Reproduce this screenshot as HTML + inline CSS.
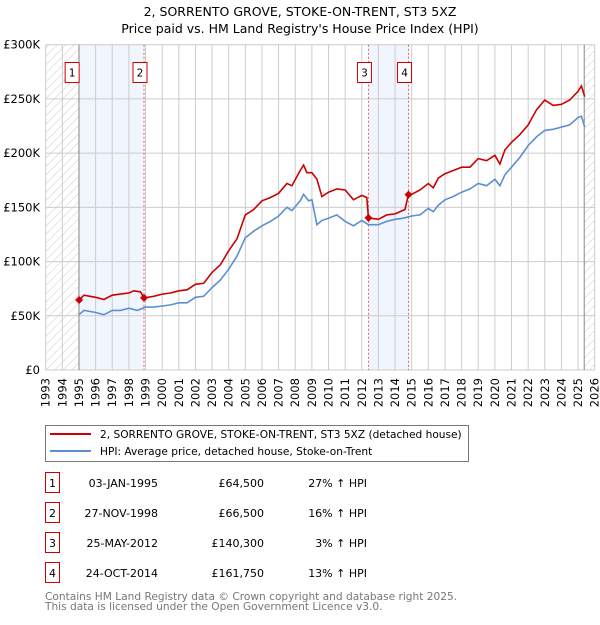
<!DOCTYPE html>
<html><head><meta charset="utf-8"><style>
body{margin:0;background:#fff;font-family:"Liberation Sans","DejaVu Sans",sans-serif;}
svg text{font-family:"DejaVu Sans","Liberation Sans",sans-serif;}
</style></head><body>
<svg id="c" width="600" height="620" xmlns="http://www.w3.org/2000/svg">
<defs><pattern id="hatch" width="6" height="6" patternUnits="userSpaceOnUse" patternTransform="rotate(45)"><line x1="0" y1="0" x2="0" y2="6" stroke="#ccc" stroke-width="1"/></pattern></defs>
<text x="300" y="16" text-anchor="middle" font-size="12.5" fill="#000">2, SORRENTO GROVE, STOKE-ON-TRENT, ST3 5XZ</text>
<text x="300" y="33" text-anchor="middle" font-size="12.5" fill="#000">Price paid vs. HM Land Registry's House Price Index (HPI)</text>
<g id="plot"></g>
<g>
<rect x="45.5" y="425.5" width="423" height="36" fill="#fff" stroke="#777"/>
<line x1="50" y1="434" x2="91" y2="434" stroke="#cc0000" stroke-width="2"/>
<text x="100" y="438" font-size="10.6">2, SORRENTO GROVE, STOKE-ON-TRENT, ST3 5XZ (detached house)</text>
<line x1="50" y1="451" x2="91" y2="451" stroke="#5b8fd4" stroke-width="2"/>
<text x="100" y="455" font-size="10.6">HPI: Average price, detached house, Stoke-on-Trent</text>
</g>
<g id="table" font-size="11"></g>
<text x="45" y="600" font-size="10.6" fill="#777">Contains HM Land Registry data © Crown copyright and database right 2025.</text>
<text x="45" y="610" font-size="10.6" fill="#777">This data is licensed under the Open Government Licence v3.0.</text>
</svg>
<script>
const hpiYears=[1995.0,1995.3,1996,1996.5,1997,1997.5,1998,1998.5,1999,1999.5,2000,2000.5,2001,2001.5,2002,2002.5,2003,2003.5,2004,2004.5,2005,2005.5,2006,2006.5,2007,2007.5,2007.8,2008.3,2008.5,2008.8,2009,2009.3,2009.6,2010,2010.5,2011,2011.5,2012,2012.4,2013,2013.5,2014,2014.5,2015,2015.5,2016,2016.3,2016.6,2017,2017.5,2018,2018.5,2019,2019.5,2020,2020.3,2020.6,2021,2021.5,2022,2022.5,2023,2023.5,2024,2024.5,2025,2025.2,2025.4];
const hpiValues=[51,55,53,51,55,55,57,55,58,58,59,60,62,62,67,68,76,83,93,105,122,128,133,137,142,150,147,156,162,156,157,134,138,140,143,137,133,138,134,134,137,139,140,142,143,149,146,152,157,160,164,167,172,170,176,170,180,187,196,207,215,221,222,224,226,233,234,224];
const priceYears=[1995.0,1995.3,1996,1996.5,1997,1997.5,1998,1998.3,1998.7,1998.9,1999.5,2000,2000.5,2001,2001.5,2002,2002.5,2003,2003.5,2004,2004.5,2005,2005.5,2006,2006.5,2007,2007.5,2007.8,2008.3,2008.5,2008.7,2009,2009.3,2009.6,2010,2010.5,2011,2011.5,2012,2012.3,2012.4,2013,2013.5,2014,2014.6,2014.8,2015,2015.5,2016,2016.3,2016.6,2017,2017.5,2018,2018.5,2019,2019.5,2020,2020.3,2020.6,2021,2021.5,2022,2022.5,2023,2023.5,2024,2024.5,2025,2025.2,2025.4];
const priceValues=[64.5,69,67,65,69,70,71,73,72,66.5,68,70,71,73,74,79,80,90,97,110,121,143,148,156,159,163,172,170,184,189,182,182,176,160,164,167,166,157,161,159,140.3,139,143,144,148,161.75,162,166,172,168,177,181,184,187,187,195,193,198,190,203,210,217,226,240,249,244,245,249,257,262,252];
const saleYears=[1995.01,1998.91,2012.4,2014.81];
const saleValues=[64.5,66.5,140.3,161.75];
const saleLabels=["1","2","3","4"];
const saleDates=["03-JAN-1995","27-NOV-1998","25-MAY-2012","24-OCT-2014"];
const salePrices=["£64,500","£66,500","£140,300","£161,750"];
const salePct=["27%","16%","3%","13%"];
const yTicks=[0,50,100,150,200,250,300];
const yTickLabels=["£0","£50K","£100K","£150K","£200K","£250K","£300K"];
const xTicks=[];for(let y=1993;y<=2026;y++)xTicks.push(y);

const X0=45.7,X1=594.7,Y0=370,Y1=44.7;
const xs=y=>X0+(y-1993)/(2026-1993)*(X1-X0);
const ys=v=>Y0-v/300*(Y0-Y1);
const NS="http://www.w3.org/2000/svg";
const plot=document.getElementById('plot');
function mk(tag,attrs,parent){const e=document.createElementNS(NS,tag);for(const k in attrs)e.setAttribute(k,attrs[k]);(parent||plot).appendChild(e);return e;}

let e=mk('rect',{x:xs(1993),y:Y1,width:xs(1995)-xs(1993),height:Y0-Y1,fill:'url(#hatch)'});


e=mk('rect',{x:xs(2025.37),y:Y1,width:X1-xs(2025.37),height:Y0-Y1,fill:'url(#hatch)'});


e=mk('rect',{x:xs(1995.01),y:Y1,width:xs(1998.91)-xs(1995.01),height:Y0-Y1,fill:'#eef3fc',opacity:0.8});


e=mk('rect',{x:xs(2012.4),y:Y1,width:xs(2014.81)-xs(2012.4),height:Y0-Y1,fill:'#eef3fc',opacity:0.8});


xTicks.forEach(t=>{const g=mk('line',{x1:xs(t),x2:xs(t),y1:Y1,y2:Y0,stroke:'#ccc','stroke-width':1});


const tx=mk('text',{x:0,y:0,'font-size':11.5,'text-anchor':'end',transform:`translate(${xs(t)+4},${Y0+8}) rotate(-90)`});tx.textContent=t;

});
yTicks.forEach((t,i)=>{const g=mk('line',{x1:X0,x2:X1,y1:ys(t),y2:ys(t),stroke:'#ccc','stroke-width':1});


const tx=mk('text',{x:40,y:ys(t)+4,'font-size':11.5,'text-anchor':'end'});tx.textContent=yTickLabels[i];

});
e=mk('line',{x1:xs(1995.0),x2:xs(1995.0),y1:Y1,y2:Y0,stroke:'#888','stroke-width':1});


e=mk('line',{x1:xs(2025.37),x2:xs(2025.37),y1:Y1,y2:Y0,stroke:'#888','stroke-width':1});


saleYears.forEach((s,i)=>{if(i===0)return;const l=mk('line',{x1:xs(s),x2:xs(s),y1:Y1,y2:Y0,stroke:'#e06060','stroke-width':1,'stroke-dasharray':'2,2'});

});
const pth=(xa,va)=>xa.map((x,i)=>(i?'L':'M')+xs(x).toFixed(1)+','+ys(va[i]).toFixed(1)).join('');
e=mk('path',{d:pth(hpiYears,hpiValues),fill:'none',stroke:'#5b8fd4','stroke-width':1.6});


e=mk('path',{d:pth(priceYears,priceValues),fill:'none',stroke:'#cc0000','stroke-width':1.6});


saleYears.forEach((s,i)=>{const cx=xs(s),cy=ys(saleValues[i]);
const m=mk('path',{d:`M${cx-4},${cy}L${cx},${cy-4}L${cx+4},${cy}L${cx},${cy+4}Z`,fill:'#cc0000'});


const bx=cx-(i===0?9:6)-5;
const b=mk('rect',{x:bx,y:62.5,width:14,height:20,fill:'#fff',stroke:'#cc0000'});


const t=mk('text',{x:bx+7,y:76.5,'font-size':10.5,'text-anchor':'middle'});t.textContent=saleLabels[i];

});
const tb=document.getElementById('table');
saleLabels.forEach((l,i)=>{const cy=483+i*30;
const r=mk('rect',{x:45.5,y:cy-10.5,width:14,height:20,fill:'#fff',stroke:'#cc0000'},tb);


const a=[[52.5,l,'middle','num'],[158,saleDates[i],'end','date'],[264,salePrices[i],'end','price'],[367,salePct[i]+' ↑ HPI','end','pct']];
a.forEach(c=>{const t=mk('text',{x:c[0],y:cy+4,'text-anchor':c[2]},tb);t.textContent=c[1];

});});
</script>
</body></html>
